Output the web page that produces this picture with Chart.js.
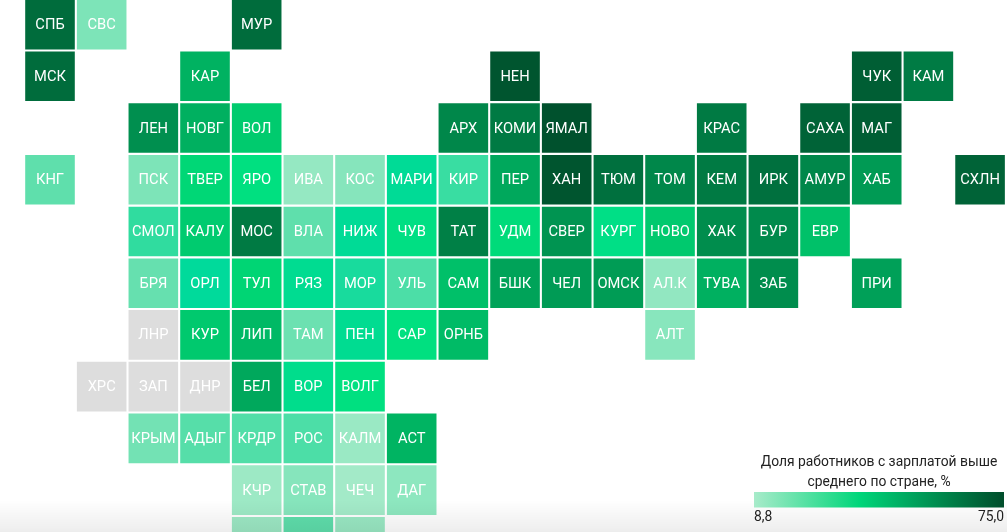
<!DOCTYPE html>
<html lang="ru"><head><meta charset="utf-8">
<style>html,body{margin:0;padding:0;background:#fff;overflow:hidden}#w{width:1007px;height:532px;position:relative}</style>
<script src="https://cdn.jsdelivr.net/npm/chart.js@4"></script></head>
<body><div id="w"><canvas id="c" width="1007" height="532"></canvas></div>
<script>
const regions = ["СПБ","СВС","МУР","МСК","КАР","НЕН","ЧУК","КАМ","ЛЕН","НОВГ","ВОЛ","АРХ","КОМИ","ЯМАЛ","КРАС","САХА","МАГ",
"КНГ","ПСК","ТВЕР","ЯРО","ИВА","КОС","МАРИ","КИР","ПЕР","ХАН","ТЮМ","ТОМ","КЕМ","ИРК","АМУР","ХАБ","СХЛН",
"СМОЛ","КАЛУ","МОС","ВЛА","НИЖ","ЧУВ","ТАТ","УДМ","СВЕР","КУРГ","НОВО","ХАК","БУР","ЕВР",
"БРЯ","ОРЛ","ТУЛ","РЯЗ","МОР","УЛЬ","САМ","БШК","ЧЕЛ","ОМСК","АЛ.К","ТУВА","ЗАБ","ПРИ",
"ЛНР","КУР","ЛИП","ТАМ","ПЕН","САР","ОРНБ","АЛТ",
"ХРС","ЗАП","ДНР","БЕЛ","ВОР","ВОЛГ",
"КРЫМ","АДЫГ","КРДР","РОС","КАЛМ","АСТ",
"КЧР","СТАВ","ЧЕЧ","ДАГ",
"","",""];
const columns = [0,1,4,0,3,9,16,17,2,3,4,8,9,10,13,15,16,
0,2,3,4,5,6,7,8,9,10,11,12,13,14,15,16,18,
2,3,4,5,6,7,8,9,10,11,12,13,14,15,
2,3,4,5,6,7,8,9,10,11,12,13,14,16,
2,3,4,5,6,7,8,12,
1,2,3,4,5,6,
2,3,4,5,6,7,
4,5,6,7,
4,5,6];
const rows = [0,0,0,1,1,1,1,1,2,2,2,2,2,2,2,2,2,
3,3,3,3,3,3,3,3,3,3,3,3,3,3,3,3,3,
4,4,4,4,4,4,4,4,4,4,4,4,4,4,
5,5,5,5,5,5,5,5,5,5,5,5,5,5,
6,6,6,6,6,6,6,6,
7,7,7,7,7,7,
8,8,8,8,8,8,
9,9,9,9,
10,10,10];
const shares = [66,15.4,66,66,46,72.7,70,61.8,56,46.6,39,58.3,62,73.8,62,68.7,70,
20,15.4,35.5,33,11.7,14,29,24,49,72.7,65,58.3,62,65,58.3,53,68.7,
25,38.9,62,20,29,32.5,60.4,34.5,54.6,32,39.4,56.6,57.5,41.7,
19,28,36,30,26.5,22,42,50.3,52.6,52.3,12.2,46.6,56.6,51.2,
null,39.4,44,18,30,33,43.4,13.7,
null,null,null,49,31,33,
17,21,21.5,22,11,45.5,
10.5,14,9.5,13,
10.5,20,11];
const scaleValues = [8.8,20,25,28,31,33,36,75];
const scaleColors = ["#a8ebca","#5fdfac","#30dc9f","#00da9b","#00dd8c","#00e080","#00d574","#004d2b"];
const legendStops = [0,0.42,1];
const legendColors = ["#a8ebca","#00d67a","#004d2b"];
const legendTitle = ["Доля работников с зарплатой выше","среднего по стране, %"];
const legendMin = "8,8", legendMax = "75,0";

const hex = h => [1,3,5].map(i => parseInt(h.slice(i,i+2),16));
function colorOf(v){
  if (v === null) return "#dddddd";
  let i = 0;
  while (i < scaleValues.length-2 && v > scaleValues[i+1]) i++;
  const t = Math.min(1,Math.max(0,(v-scaleValues[i])/(scaleValues[i+1]-scaleValues[i])));
  const a = hex(scaleColors[i]), b = hex(scaleColors[i+1]);
  return "rgb("+a.map((x,k)=>Math.round(x+(b[k]-x)*t)).join(",")+")";
}
const PITCH = 51.67, X0 = 50, Y0 = 24.6;
const overlay = {
  id:"overlay",
  afterDatasetsDraw(chart){
    const {ctx} = chart, meta = chart.getDatasetMeta(0);
    ctx.save();
    ctx.fillStyle = "#fff";
    ctx.font = "400 14.7px Roboto";
    ctx.textAlign = "center"; ctx.textBaseline = "middle";
    meta.data.forEach((p,i)=>{ if (regions[i]) ctx.fillText(regions[i], p.x, p.y+0.8); });
    const f = ctx.createLinearGradient(0,500,0,532);
    f.addColorStop(0,"rgba(0,0,0,0)");
    f.addColorStop(1,"rgba(0,0,0,0.07)");
    ctx.fillStyle = f; ctx.fillRect(0,500,1007,32);
    const L = 754, W = 250, T = 492, H = 15.5;
    const g = ctx.createLinearGradient(L,0,L+W,0);
    legendStops.forEach((s,i)=>g.addColorStop(s, legendColors[i]));
    ctx.fillStyle = g; ctx.fillRect(L,T,W,H);
    ctx.fillStyle = "#222"; ctx.font = "400 13.85px Roboto";
    ctx.fillText(legendTitle[0], L+W/2, 462.5);
    ctx.fillText(legendTitle[1], L+W/2, 482.5);
    ctx.textAlign = "left"; ctx.fillText(legendMin, L, 518);
    ctx.textAlign = "right"; ctx.fillText(legendMax, L+W, 518);
    ctx.restore();
  }
};
new Chart(document.getElementById("c"),{
  type:"scatter",
  data:{datasets:[{
    data: columns.map((c,i)=>({x:c,y:rows[i]})),
    pointStyle:"rect",
    pointRadius:49.6/2*Math.SQRT2,
    pointBorderWidth:0,
    pointBackgroundColor: shares.map(colorOf),
    clip:false
  }]},
  options:{
    responsive:false, animation:false, events:[],
    layout:{padding:0,autoPadding:false},
    plugins:{legend:{display:false},tooltip:{enabled:false}},
    scales:{
      x:{type:"linear",display:false,bounds:"data",min:-X0/PITCH,max:(1007-X0)/PITCH},
      y:{type:"linear",display:false,bounds:"data",reverse:true,min:-Y0/51.72,max:(532-Y0)/51.72}
    }
  },
  plugins:[overlay]
});
</script></body></html>
